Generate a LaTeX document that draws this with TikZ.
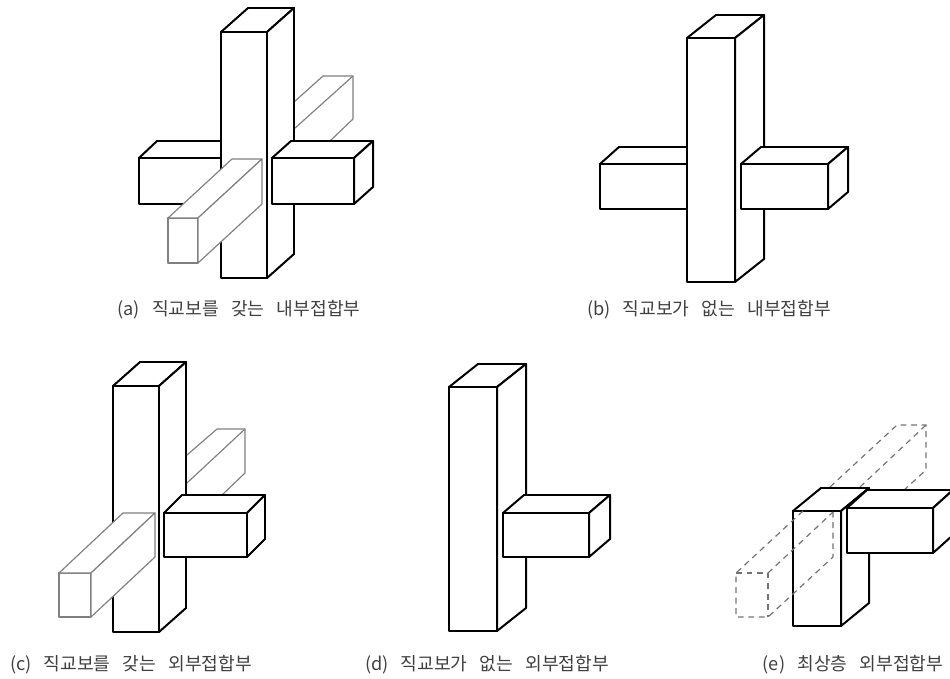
\documentclass[tikz,border=0pt]{standalone}
\usepackage{fontspec}
\setmainfont[WordSpace=3]{Noto Sans CJK KR}
\usepackage{xcolor}
\newcommand{\prismbox}[7][solidline]{%
  \filldraw[#1] (#2,#3) rectangle (#2+#4,#3+#5);
  \filldraw[#1] (#2,#3) -- (#2+#6,#3+#7) -- (#2+#4+#6,#3+#7) -- (#2+#4,#3) -- cycle;
  \filldraw[#1] (#2+#4,#3) -- (#2+#4+#6,#3+#7) -- (#2+#4+#6,#3+#5+#7) -- (#2+#4,#3+#5) -- cycle;
}
\begin{document}
\begin{tikzpicture}[x=0.03cm, y=-0.03cm,
      solidline/.style={draw=black, fill=white, line width=1.7pt, line join=round},
      greyline/.style={draw=black!50, fill=white, line width=1pt, line join=round},
      greyopen/.style={draw=black!50, line width=1pt, line join=round},
      dashline/.style={draw=black!55, line width=1pt, dashed, dash pattern=on 5pt off 4pt},
      caption/.style={font=\fontsize{15.5}{20}\selectfont, inner sep=0pt, text=black!75}]
    \clip (0,0) rectangle (950,679);
    % (a)
    \draw[greyopen] (294,102) -- (323,76) -- (353,76) -- (353,119) -- (330,141);
    \draw[greyopen] (294,129) -- (353,76);
    \prismbox{139}{158}{82}{46}{18}{-17}
    \prismbox{221}{32}{46}{246}{27}{-24}
    \prismbox{272}{158}{82}{46}{19}{-17}
    \prismbox[greyline]{168}{218}{30}{45}{64}{-59}
    \node[caption] (labela) at (239,310) {(a) 직교보를 갖는 내부접합부};
    % (b)
    \prismbox{600}{164}{87}{45}{19}{-17}
    \prismbox{687}{38}{48}{244}{29}{-23}
    \prismbox{741}{164}{87}{45}{20}{-17}
    \node[caption] (labelb) at (709,310) {(b) 직교보가 없는 내부접합부};
    % (c)
    \draw[greyopen] (187,455) -- (217,429) -- (245,429) -- (245,473) -- (222,495);
    \draw[greyopen] (187,483) -- (245,429);
    \prismbox{113}{386}{46}{246}{27}{-24}
    \prismbox{164}{513}{83}{44}{18}{-18}
    \prismbox[greyline]{59}{573}{32}{44}{64}{-60}
    \node[caption] (labelc) at (131,665) {(c) 직교보를 갖는 외부접합부};
    % (d)
    \prismbox{449}{387}{48}{244}{29}{-23}
    \prismbox{503}{513}{86}{44}{21}{-18}
    \node[caption] (labeld) at (487,665) {(d) 직교보가 없는 외부접합부};
    % (e)
    \draw[dashline] (830,487) -- (897,425) -- (926,425) -- (926,470) -- (903,491);
    \draw[dashline] (860,487) -- (926,425);
    \prismbox{793}{511}{48}{115}{28}{-23}
    \prismbox{847}{508}{86}{45}{20}{-18}
    \draw[dashline] (803,511) -- (736,573) -- (736,617) -- (768,617) -- (833,557) -- (833,512);
    \draw[dashline] (736,573) -- (768,573) -- (768,617);
    \draw[dashline] (768,573) -- (833,512);
    \node[caption] (labele) at (853,665) {(e) 최상층 외부접합부};
  \end{tikzpicture}
\end{document}
